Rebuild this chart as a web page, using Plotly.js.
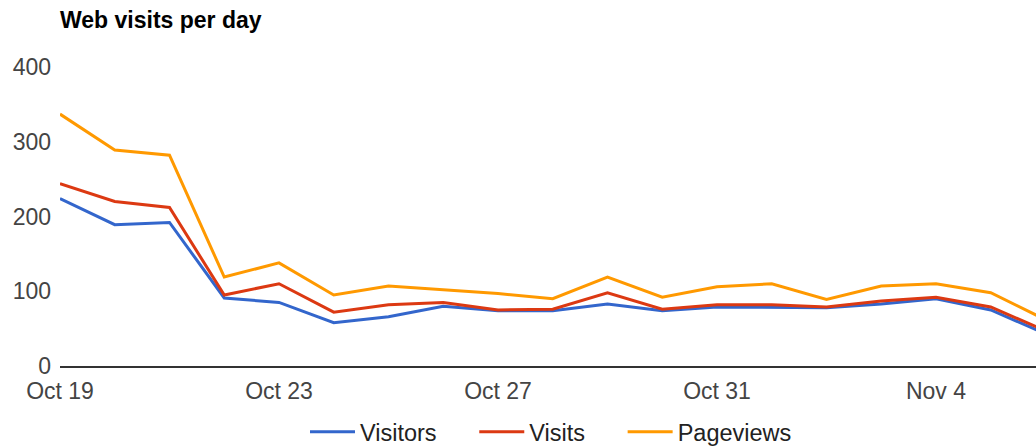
<!DOCTYPE html>
<html>
<head>
<meta charset="utf-8">
<script src="https://cdn.plot.ly/plotly-3.0.1.min.js"></script>
<style>
html,body{margin:0;padding:0;background:#fff;overflow:hidden;}
#chart{width:1036px;height:447px;}
</style>
</head>
<body>
<div id="chart"></div>
<script>
const dates = ['2013-10-19','2013-10-20','2013-10-21','2013-10-22','2013-10-23','2013-10-24','2013-10-25','2013-10-26','2013-10-27','2013-10-28','2013-10-29','2013-10-30','2013-10-31','2013-11-01','2013-11-02','2013-11-03','2013-11-04','2013-11-05','2013-11-06'];
const visitors = [224,189,192,91,85,58,66,80,74,74,83,74,79,79,78,83,90,75,43];
const visits = [244,220,212,95,110,72,82,85,75,76,98,76,82,82,79,87,92,79,47];
const pageviews = [337,289,282,119,138,95,107,102,97,90,119,92,106,110,89,107,110,98,62];
const seriesNames = ['Visitors','Visits','Pageviews'];
const tickVals = ['2013-10-19','2013-10-23','2013-10-27','2013-10-31','2013-11-04'];
const tickText = ['Oct 19','Oct 23','Oct 27','Oct 31','Nov 4'];

const font = 'Liberation Sans, Arial, sans-serif';
const pad = '\u00a0\u00a0\u00a0\u00a0\u00a0';
const mk = (y, name, color) => ({
  x: dates, y: y, name: name + pad, type: 'scatter', mode: 'lines',
  line: {color: color, width: 3}
});
const data = [
  mk(visitors, seriesNames[0], '#3366CC'),
  mk(visits, seriesNames[1], '#DC3912'),
  mk(pageviews, seriesNames[2], '#FF9900')
];
const layout = {
  width: 1036, height: 447,
  margin: {l: 60, r: 0, t: 67, b: 81},
  paper_bgcolor: '#fff', plot_bgcolor: '#fff',
  title: {text: '<b>Web visits per day</b>', x: 60/1036, xanchor: 'left', y: 1 - 20/447, yanchor: 'middle',
          font: {family: font, size: 23, color: '#000'}},
  xaxis: {
    type: 'date', range: ['2013-10-19', '2013-11-05 19:50'],
    tickvals: tickVals, ticktext: tickText,
    showgrid: false, zeroline: false, showline: true, linecolor: '#333', linewidth: 2,
    ticks: '', ticklabelstandoff: 3,
    tickfont: {family: font, size: 23, color: '#444'}
  },
  yaxis: {
    range: [0, 400], tickvals: [0,100,200,300,400],
    showgrid: false, zeroline: false, showline: false,
    ticks: '', ticklabelstandoff: 8,
    tickfont: {family: font, size: 23, color: '#444'}
  },
  showlegend: true,
  legend: {orientation: 'h', xref: 'container', x: 567/1036, xanchor: 'center',
           yref: 'container', y: 15/447, yanchor: 'middle',
           font: {family: font, size: 23.5, color: '#222'}, itemwidth: 45},
  hovermode: false
};
Plotly.newPlot('chart', data, layout, {displayModeBar: false, staticPlot: true});
</script>
</body>
</html>
